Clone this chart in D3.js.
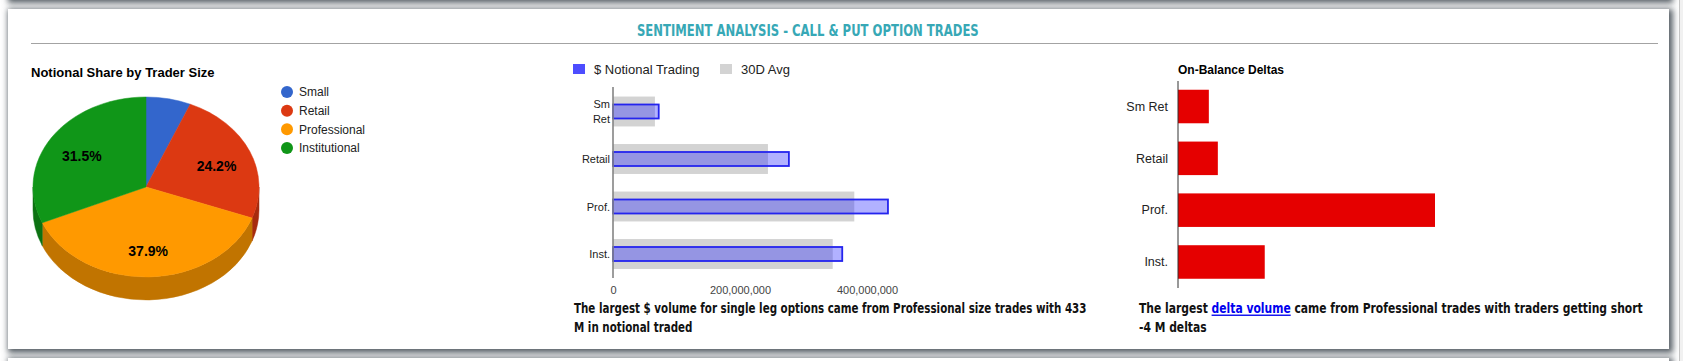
<!DOCTYPE html>
<html>
<head>
<meta charset="utf-8">
<script src="https://cdn.jsdelivr.net/npm/d3@7"></script>
<style>
  html, body { margin:0; padding:0; }
  body { width:1683px; height:361px; overflow:hidden; position:relative; background:#ffffff; }
  .card { position:absolute; left:8px; width:1661px; background:#fff;
          box-shadow: 2px 2px 6px 2px rgba(48,58,66,0.8); }
  #edge { position:absolute; left:1679px; top:0; width:4px; height:361px; background:#f1f1f1; border-left:1px solid #c4c4c4; }
  svg { position:absolute; left:0; top:0; }
</style>
</head>
<body>
<div class="card" style="top:-200px;height:199px"></div>
<div class="card" style="top:9px;height:340px"></div>
<div class="card" style="top:358px;height:200px"></div>
<div id="edge"></div>
<svg id="chart" width="1683" height="361"></svg>
<script>
// ---------------- DATA ----------------
const pageTitle = "SENTIMENT ANALYSIS - CALL & PUT OPTION TRADES";

const pieTitle = "Notional Share by Trader Size";
const pieCategories = ["Small", "Retail", "Professional", "Institutional"];
const pieShares = [6.4, 24.2, 37.9, 31.5];

const notionalSeries = ["$ Notional Trading", "30D Avg"];
const barCategories = ["Sm Ret", "Retail", "Prof.", "Inst."];
const notionalValues = [72e6, 277e6, 433e6, 361e6];
const avg30dValues = [66e6, 244e6, 380e6, 346e6];
const notionalTicks = [0, 200e6, 400e6];

const deltaTitle = "On-Balance Deltas";
const deltaCategories = ["Sm Ret", "Retail", "Prof.", "Inst."];
const deltaMillions = [0.48, 0.62, 4.0, 1.35];

const caption1Lines = ["The largest $ volume for single leg options came from Professional size trades with 433",
                       "M in notional traded"];
const caption2Parts = ["The largest ", "delta volume", " came from Professional trades with traders getting short"];
const caption2Line2 = "-4 M deltas";

// ---------------- STYLES ----------------
const pieColors = ["#3366cc", "#dc3912", "#ff9900", "#109618"];
const labelFont = "'Liberation Sans', Arial, sans-serif";
const boldFont = "'DejaVu Sans Condensed', 'DejaVu Sans', sans-serif";

const svg = d3.select("#chart");

function fitWidth(sel, target, kOverride) {
  const node = sel.node();
  const w = node.getComputedTextLength();
  const k = kOverride !== undefined ? kOverride : target / w;
  const x = +sel.attr("x");
  sel.attr("transform", `translate(${x},0) scale(${k},1) translate(${-x},0)`);
  return k;
}

// ---------------- HEADER ----------------
const titleText = svg.append("text")
  .attr("x", 637).attr("y", 36.5)
  .attr("font-family", boldFont).attr("font-weight", "bold")
  .attr("font-stretch", "condensed")
  .attr("font-size", 16.5).attr("fill", "#37a8b6")
  .text(pageTitle);
fitWidth(titleText, 342);

svg.append("line").attr("x1", 31).attr("x2", 1658).attr("y1", 43.5).attr("y2", 43.5)
  .attr("stroke", "#a3a3a3").attr("stroke-width", 1);

// ---------------- PIE (3D) ----------------
const pieG = svg.append("g");
pieG.append("text").attr("x", 31).attr("y", 77)
  .attr("font-family", labelFont).attr("font-weight", "bold").attr("font-size", 13)
  .attr("fill", "#000").text(pieTitle);

const cx = 146, cy = 187, rx = 113, ry = 90, depth = 23;
const arcs = d3.pie().sort(null).value(d => d)(pieShares);
const P = (a, dy = 0) => [cx + rx * Math.sin(a), cy - ry * Math.cos(a) + dy];

// side walls (front half only)
arcs.forEach((d, i) => {
  const s = Math.max(d.startAngle, Math.PI / 2);
  const e = Math.min(d.endAngle, 3 * Math.PI / 2);
  if (s >= e) return;
  const p1 = P(s), p2 = P(e), p3 = P(e, depth), p4 = P(s, depth);
  const path = `M${p1}A${rx},${ry} 0 0 1 ${p2}L${p3}A${rx},${ry} 0 0 0 ${p4}Z`;
  const side = d3.color(pieColors[i]).darker(0.78).formatHex();
  pieG.append("path").attr("d", path).attr("fill", side).attr("stroke", side).attr("stroke-width", 0.5);
});
// top faces
arcs.forEach((d, i) => {
  const p0 = P(d.startAngle), p1 = P(d.endAngle);
  const large = (d.endAngle - d.startAngle) > Math.PI ? 1 : 0;
  pieG.append("path")
    .attr("d", `M${cx},${cy}L${p0}A${rx},${ry} 0 ${large} 1 ${p1}Z`)
    .attr("fill", pieColors[i]).attr("stroke", pieColors[i]).attr("stroke-width", 0.5);
});
// labels
arcs.forEach((d, i) => {
  if (pieShares[i] < 10) return;
  const m = (d.startAngle + d.endAngle) / 2;
  const f = 0.68;
  const x = cx + f * rx * Math.sin(m);
  const y = cy - f * ry * Math.cos(m) + 3;
  pieG.append("text").attr("x", x).attr("y", y + 5)
    .attr("text-anchor", "middle")
    .attr("font-family", labelFont).attr("font-weight", "bold").attr("font-size", 14)
    .attr("fill", "#000").text(d3.format(".1f")(pieShares[i]) + "%");
});
// legend
const legY = d3.scalePoint().domain(pieCategories).range([92, 148]);
pieCategories.forEach((c, i) => {
  pieG.append("circle").attr("cx", 287).attr("cy", legY(c)).attr("r", 6).attr("fill", pieColors[i]);
  pieG.append("text").attr("x", 299).attr("y", legY(c) + 4.3)
    .attr("font-family", labelFont).attr("font-size", 12).attr("fill", "#222").text(c);
});

// ---------------- NOTIONAL BAR CHART ----------------
const nG = svg.append("g");
const xN = d3.scaleLinear().domain([0, 400e6]).range([613, 867]);
const yN = d3.scaleBand().domain(barCategories).range([87.75, 277.75])
  .paddingInner(0.37).paddingOuter(0.185);

// legend
nG.append("rect").attr("x", 573).attr("y", 64).attr("width", 12).attr("height", 10).attr("fill", "#4d4dff");
nG.append("text").attr("x", 594).attr("y", 73.5).attr("font-family", labelFont).attr("font-size", 13)
  .attr("fill", "#222").text(notionalSeries[0]);
nG.append("rect").attr("x", 720).attr("y", 64).attr("width", 12).attr("height", 10).attr("fill", "#d3d3d3");
nG.append("text").attr("x", 741).attr("y", 73.5).attr("font-family", labelFont).attr("font-size", 13)
  .attr("fill", "#222").text(notionalSeries[1]);

// 30D avg bars
nG.selectAll("rect.avg").data(avg30dValues).enter().append("rect").attr("class", "avg")
  .attr("x", xN(0)).attr("y", (d, i) => yN(barCategories[i]))
  .attr("width", d => xN(d) - xN(0)).attr("height", yN.bandwidth())
  .attr("fill", "#d3d3d3");
// notional bars
const thin = 14;
nG.selectAll("rect.not").data(notionalValues).enter().append("rect").attr("class", "not")
  .attr("x", xN(0)).attr("y", (d, i) => yN(barCategories[i]) + yN.bandwidth() / 2 - thin / 2)
  .attr("width", d => xN(d) - xN(0)).attr("height", thin)
  .attr("fill", "rgba(38,38,255,0.36)").attr("stroke", "#2424ee").attr("stroke-width", 1.8);
// baseline
nG.append("line").attr("x1", xN(0)).attr("x2", xN(0)).attr("y1", 87).attr("y2", 278)
  .attr("stroke", "#858585").attr("stroke-width", 1.6);
// category labels
barCategories.forEach(c => {
  const words = c.split(" ");
  const cyc = yN(c) + yN.bandwidth() / 2;
  const t = nG.append("text").attr("text-anchor", "end")
    .attr("font-family", labelFont).attr("font-size", 11).attr("fill", "#222");
  if (words.length > 1 && c.length > 4) {
    words.forEach((w, k) => {
      t.append("tspan").attr("x", 610).attr("y", cyc + 4 + (k - (words.length - 1) / 2) * 15).text(w);
    });
  } else {
    t.attr("x", 610).attr("y", cyc + 4).text(c);
  }
});
// x axis
const axN = nG.append("g").attr("transform", "translate(0,286)")
  .call(d3.axisBottom(xN).tickValues(notionalTicks).tickFormat(d3.format(",")).tickSize(0).tickPadding(0));
axN.select(".domain").remove();
axN.selectAll("text").attr("font-family", labelFont).attr("font-size", 11).attr("fill", "#444").attr("dy", "0.7em");

// caption 1
const capSize = 13.5;
const c1a = svg.append("text").attr("x", 574).attr("y", 313.5)
  .attr("font-family", boldFont).attr("font-weight", "bold").attr("font-size", capSize).attr("fill", "#111")
  .text(caption1Lines[0]);
const k1 = fitWidth(c1a, 513);
const c1b = svg.append("text").attr("x", 574).attr("y", 332.5)
  .attr("font-family", boldFont).attr("font-weight", "bold").attr("font-size", capSize).attr("fill", "#111")
  .text(caption1Lines[1]);
fitWidth(c1b, 0, k1);

// ---------------- DELTAS BAR CHART ----------------
const dG = svg.append("g");
const xD = d3.scaleLinear().domain([0, 6]).range([1178, 1178 + 385.5]);
const yD = d3.scaleBand().domain(deltaCategories).range([80.6, 287.9])
  .paddingInner(0.353).paddingOuter(0.1765);
dG.append("text").attr("x", 1178).attr("y", 74)
  .attr("font-family", labelFont).attr("font-weight", "bold").attr("font-size", 12).attr("fill", "#000")
  .text(deltaTitle);
dG.selectAll("rect.d").data(deltaMillions).enter().append("rect").attr("class", "d")
  .attr("x", xD(0)).attr("y", (d, i) => yD(deltaCategories[i]))
  .attr("width", d => xD(d) - xD(0)).attr("height", yD.bandwidth())
  .attr("fill", "#e50000");
dG.append("line").attr("x1", xD(0)).attr("x2", xD(0)).attr("y1", 81).attr("y2", 288)
  .attr("stroke", "#333").attr("stroke-width", 1);
deltaCategories.forEach(c => {
  dG.append("text").attr("x", 1168).attr("y", yD(c) + yD.bandwidth() / 2 + 4.3)
    .attr("text-anchor", "end").attr("font-family", labelFont).attr("font-size", 12.5)
    .attr("fill", "#222").text(c);
});

// caption 2
const c2a = svg.append("text").attr("x", 1139).attr("y", 313.5)
  .attr("font-family", boldFont).attr("font-weight", "bold").attr("font-size", capSize).attr("fill", "#111");
c2a.append("tspan").text(caption2Parts[0]);
c2a.append("tspan").attr("fill", "#0000ee").style("text-decoration", "underline").text(caption2Parts[1]);
c2a.append("tspan").text(caption2Parts[2]);
const k2 = fitWidth(c2a, 504);
const c2b = svg.append("text").attr("x", 1139).attr("y", 332.5)
  .attr("font-family", boldFont).attr("font-weight", "bold").attr("font-size", capSize).attr("fill", "#111")
  .text(caption2Line2);
fitWidth(c2b, 0, k2);
</script>
</body>
</html>
